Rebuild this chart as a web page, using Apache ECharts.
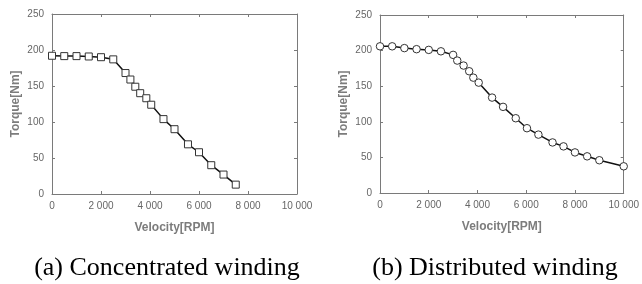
<!DOCTYPE html>
<html>
<head>
<meta charset="utf-8">
<script src="https://cdn.jsdelivr.net/npm/echarts@6/dist/echarts.min.js"></script>
<style>
  html, body { margin: 0; padding: 0; background: #fff; }
  #main { width: 642px; height: 284px; }
</style>
</head>
<body>
<div id="main"></div>
<script>
var chart = echarts.init(document.getElementById('main'));

// (a) concentrated winding
var concRpm = [0, 500, 1000, 1500, 2000, 2500, 3000, 3200, 3400, 3600, 3850, 4050, 4550, 5000, 5550, 6000, 6500, 7000, 7500];
var concTorque = [192, 191.5, 191.5, 191, 190, 187, 168, 159, 149, 140, 133, 124, 104, 90, 69, 58, 40, 27, 13];

// (b) distributed winding
var distRpm = [0, 500, 1000, 1500, 2000, 2500, 3000, 3170, 3430, 3660, 3830, 4050, 4600, 5050, 5570, 6030, 6500, 7080, 7530, 8000, 8500, 9000, 10000];
var distTorque = [206, 206, 203.5, 202, 201, 199, 194, 186, 179, 171, 162, 155, 134, 121, 105, 91, 82, 71, 65.5, 57, 51.5, 46, 37.5];

var captions = ['(a) Concentrated winding', '(b) Distributed winding'];
var xName = 'Velocity[RPM]';
var yName = 'Torque[Nm]';

function pairs(xs, ys) {
  return xs.map(function (x, i) { return [x, ys[i]]; });
}

function fmtRpm(v) {
  if (v < 1000) return String(v);
  return Math.floor(v / 1000) + ' ' + String(v % 1000).padStart(3, '0');
}

var frame = '#7a7a7a';
var labelCol = '#666';

function xAxisMain(grid) {
  return {
    type: 'value', gridIndex: grid, min: 0, max: 10000, interval: 2000,
    name: xName, nameLocation: 'middle', nameGap: 28,
    nameTextStyle: { color: '#7c7c7c', fontSize: 12, fontWeight: 'bold', fontFamily: 'Arial' },
    axisLine: { onZero: false, lineStyle: { color: frame } },
    axisTick: { inside: true, length: 3, lineStyle: { color: frame } },
    axisLabel: { color: labelCol, fontSize: 10, fontFamily: 'Arial', margin: 7, formatter: fmtRpm },
    splitLine: { show: false }
  };
}
function xAxisTop(grid) {
  return {
    type: 'value', gridIndex: grid, position: 'top', min: 0, max: 10000, interval: 2000,
    axisLine: { onZero: false, lineStyle: { color: frame } },
    axisTick: { inside: true, length: 3, lineStyle: { color: frame } },
    axisLabel: { show: false }, splitLine: { show: false }
  };
}
function yAxisMain(grid) {
  return {
    type: 'value', gridIndex: grid, min: 0, max: 250, interval: 50,
    name: yName, nameLocation: 'middle', nameGap: 30,
    nameTextStyle: { color: '#7c7c7c', fontSize: 12, fontWeight: 'bold', fontFamily: 'Arial' },
    axisLine: { show: true, onZero: false, lineStyle: { color: frame } },
    axisTick: { show: true, inside: true, length: 3, lineStyle: { color: frame } },
    axisLabel: { color: labelCol, fontSize: 10, fontFamily: 'Arial', margin: 8 },
    splitLine: { show: false }
  };
}
function yAxisRight(grid) {
  return {
    type: 'value', gridIndex: grid, position: 'right', min: 0, max: 250, interval: 50,
    axisLine: { show: true, onZero: false, lineStyle: { color: frame } },
    axisTick: { show: true, inside: true, length: 3, lineStyle: { color: frame } },
    axisLabel: { show: false }, splitLine: { show: false }
  };
}

var option = {
  animation: false,
  backgroundColor: '#fff',
  grid: [
    { left: 52, top: 14, width: 245, height: 180 },
    { left: 380, top: 15, width: 246, height: 178 }
  ],
  xAxis: [xAxisMain(0), xAxisTop(0), xAxisMain(1), xAxisTop(1)],
  yAxis: [yAxisMain(0), yAxisRight(0), yAxisMain(1), yAxisRight(1)],
  graphic: [
    { type: 'text', x: 167, y: 268, style: { text: captions[0], fill: '#000', font: '26px "Liberation Serif"', textAlign: 'center', textVerticalAlign: 'middle' } },
    { type: 'text', x: 495, y: 268, style: { text: captions[1], fill: '#000', font: '26px "Liberation Serif"', textAlign: 'center', textVerticalAlign: 'middle' } }
  ],
  series: [
    {
      type: 'line', xAxisIndex: 0, yAxisIndex: 0,
      data: pairs(concRpm, concTorque),
      symbol: 'rect', symbolSize: 7,
      lineStyle: { color: '#111', width: 1.5 },
      itemStyle: { color: '#fff', borderColor: '#333', borderWidth: 1 }
    },
    {
      type: 'line', xAxisIndex: 2, yAxisIndex: 2,
      data: pairs(distRpm, distTorque),
      symbol: 'circle', symbolSize: 7.5,
      lineStyle: { color: '#111', width: 1.5 },
      itemStyle: { color: '#fff', borderColor: '#333', borderWidth: 1 }
    }
  ]
};
chart.setOption(option);
</script>
</body>
</html>
